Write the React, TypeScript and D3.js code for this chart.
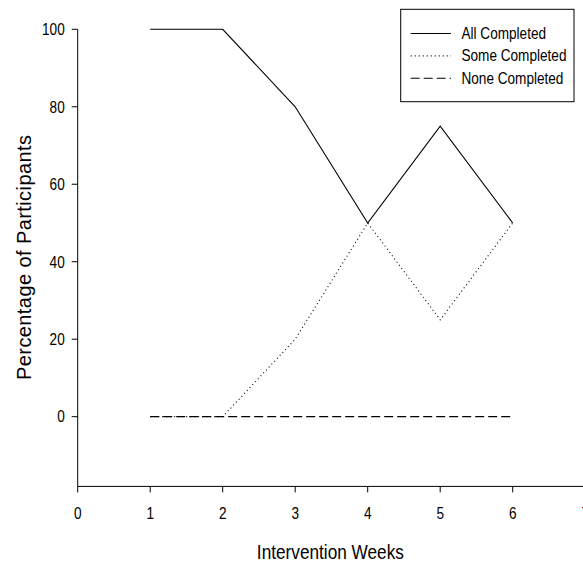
import React from "react";
import * as d3 from "d3";

const weeks = [1, 2, 3, 4, 5, 6];
const allCompleted = [100, 100, 80, 50, 75, 50];
const someCompleted = [0, 0, 20, 50, 25, 50];
const noneCompleted = [0, 0, 0, 0, 0, 0];
const xTicks = [0, 1, 2, 3, 4, 5, 6, 7];
const yTicks = [0, 20, 40, 60, 80, 100];
const seriesNames = ["All Completed", "Some Completed", "None Completed"];

const W = 583;
const H = 563;
const FONT = "'Liberation Sans', Arial, Helvetica, sans-serif";

export default function App() {
  const x = d3.scaleLinear().domain([0, 7]).range([77.7, 585.2]);
  const y = d3.scaleLinear().domain([-18, 100]).range([486.4, 29.3]);
  const line = d3
    .line<[number, number]>()
    .x((d) => x(d[0]))
    .y((d) => y(d[1]));

  const series = [
    { name: seriesNames[0], values: allCompleted, dash: undefined as string | undefined },
    { name: seriesNames[1], values: someCompleted, dash: "1,3" },
    { name: seriesNames[2], values: noneCompleted, dash: "9,4" },
  ];

  const axisY = y(-18);
  const x0 = x(0);

  return (
    <svg
      width={W}
      height={H}
      style={{ position: "absolute", left: 0, top: 0, background: "#fff" }}
    >
      <rect width={W} height={H} fill="#fff" />
      {[...series].reverse().map((s) => (
        <path
          key={s.name}
          d={line(weeks.map((w, i) => [w, s.values[i]] as [number, number])) || ""}
          fill="none"
          stroke="#000"
          strokeWidth={1.1}
          strokeDasharray={s.dash}
        />
      ))}

      {/* Y axis */}
      <line x1={x0} x2={x0} y1={y(100)} y2={axisY} stroke="#000" strokeWidth={1} />
      {yTicks.map((t) => (
        <g key={"y" + t}>
          <line x1={x0 - 6} x2={x0} y1={y(t)} y2={y(t)} stroke="#000" />
          <g transform={`translate(${x0 - 13},${y(t) + 5.8}) scale(0.85,1)`}>
            <text x={0} y={0} textAnchor="end" fontFamily={FONT} fontSize={16} fill="#000">
              {t}
            </text>
          </g>
        </g>
      ))}

      {/* X axis */}
      <line x1={x0} x2={W} y1={axisY} y2={axisY} stroke="#000" strokeWidth={1} />
      {xTicks.map((t) => (
        <g key={"x" + t}>
          <line x1={x(t)} x2={x(t)} y1={axisY} y2={axisY + 6} stroke="#000" />
          <g transform={`translate(${x(t)},${518.5}) scale(0.85,1)`}>
            <text x={0} y={0} textAnchor="middle" fontFamily={FONT} fontSize={16} fill="#000">
              {t}
            </text>
          </g>
        </g>
      ))}

      {/* Axis titles */}
      <g transform={`translate(${(x0 + W) / 2},559) scale(0.82,1)`}>
        <text x={0} y={0} textAnchor="middle" fontFamily={FONT} fontSize={21} fill="#000">
          Intervention Weeks
        </text>
      </g>
      <g transform={`translate(31,257.5) rotate(-90)`}>
        <text
          x={-122.5}
          y={0}
          textAnchor="start"
          fontFamily={FONT}
          fontSize={20}
          fill="#000"
          textLength={245}
          lengthAdjust="spacing"
        >
          Percentage of Participants
        </text>
      </g>

      {/* Legend */}
      <rect x={400.7} y={9.3} width={173.3} height={92.4} fill="#fff" stroke="#000" strokeWidth={1} />
      {series.map((s, i) => {
        const cy = 33.5 + i * 22.4;
        return (
          <g key={"leg" + s.name}>
            <line
              x1={410.7}
              x2={451}
              y1={cy}
              y2={cy}
              stroke="#000"
              strokeWidth={1.1}
              strokeDasharray={s.dash}
            />
            <g transform={`translate(461.5,${cy + 5.3}) scale(0.85,1)`}>
              <text x={0} y={0} fontFamily={FONT} fontSize={16} fill="#000">
                {s.name}
              </text>
            </g>
          </g>
        );
      })}
    </svg>
  );
}
